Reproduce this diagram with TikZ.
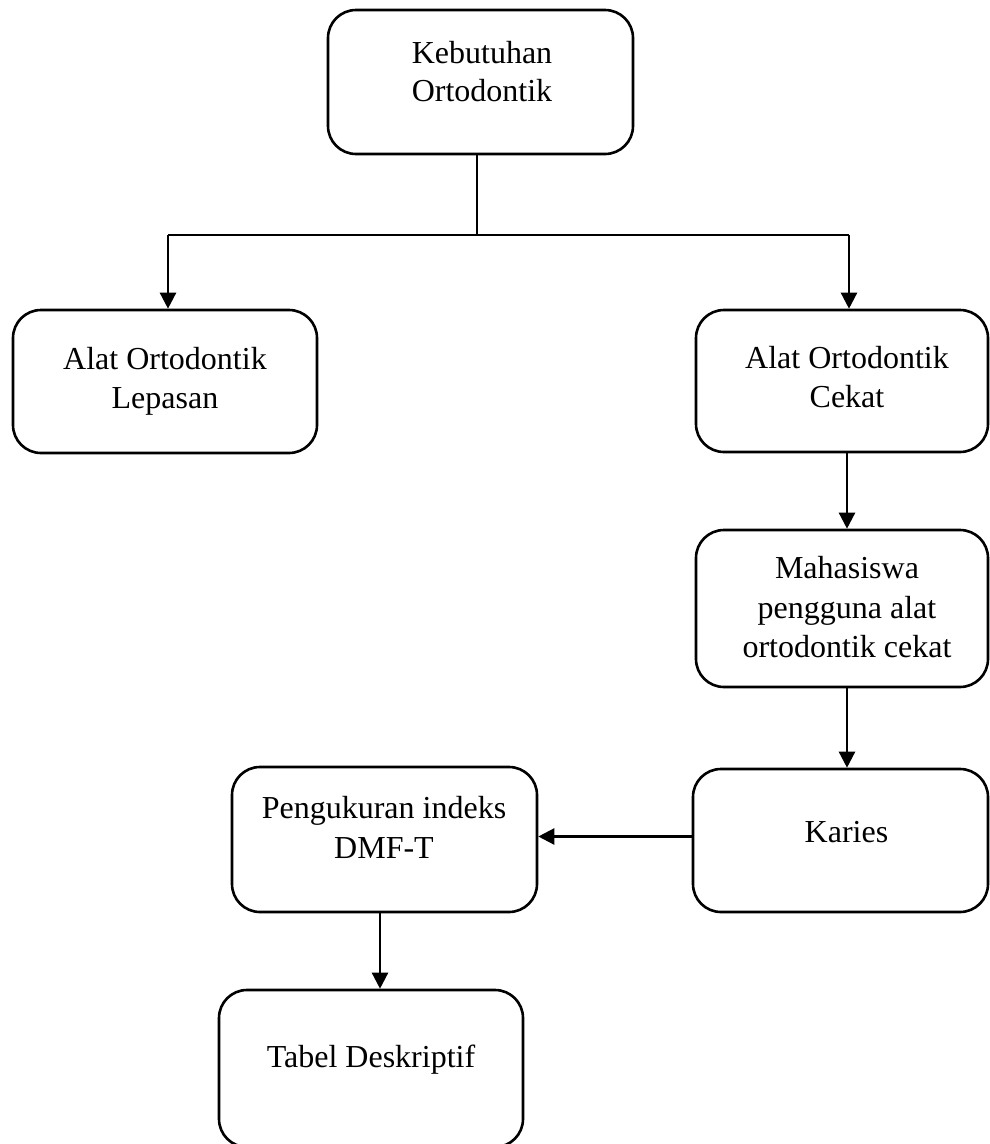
\documentclass[tikz,border=0pt]{standalone}
\usepackage{fontspec}
\setmainfont{Liberation Serif}
\usetikzlibrary{arrows.meta}
\begin{document}
\begin{tikzpicture}[x=1pt,y=-1pt,
  box/.style={draw, line width=2.6pt, rounded corners=28pt, inner sep=0pt},
  txt/.style={font=\fontsize{32}{39}\selectfont, anchor=base, inner sep=0pt},
  arr/.style={line width=2.4pt, -{Triangle[length=16pt,width=16pt]}},
  thinline/.style={line width=1.2pt}]
\useasboundingbox (0,0) rectangle (990,1144);

% boxes
\node[box, minimum width=305pt, minimum height=144pt] (keb) at (480.5,82) {};
\node[box, minimum width=304pt, minimum height=143pt] (lep) at (165,381.5) {};
\node[box, minimum width=292pt, minimum height=142pt] (cek) at (842,381) {};
\node[box, minimum width=292pt, minimum height=157pt] (mah) at (842,608.5) {};
\node[box, minimum width=295pt, minimum height=143pt] (kar) at (840.5,840.5) {};
\node[box, minimum width=305pt, minimum height=145pt] (pen) at (384.5,839.5) {};
\node[box, minimum width=304pt, minimum height=157pt] (tab) at (371,1068.5) {};

% texts
\node[txt] (keb1) at (482,63) {Kebutuhan};
\node[txt] (keb2) at (482,101) {Ortodontik};
\node[txt] (lep1) at (165,369) {Alat Ortodontik};
\node[txt] (lep2) at (165,408) {Lepasan};
\node[txt] (cek1) at (847,368) {Alat Ortodontik};
\node[txt] (cek2) at (847,407) {Cekat};
\node[txt] (mah1) at (847,578) {Mahasiswa};
\node[txt] (mah2) at (847,618) {pengguna alat};
\node[txt] (mah3) at (847,657) {ortodontik cekat};
\node[txt] (kar1) at (846.5,842) {Karies};
\node[txt] (pen1) at (384,818) {Pengukuran indeks};
\node[txt] (pen2) at (384,858) {DMF-T};
\node[txt] (tab1) at (371,1067) {Tabel Deskriptif};

% connectors
\coordinate (jm) at (477,235);
\coordinate (jl) at (168,235);
\coordinate (jr) at (849,235);
\coordinate (jx) at (847,0);
\coordinate (px) at (380,0);
\draw[thinline] (jm |- keb.south) -- (jm);
\draw[thinline] (jl) -- (jr);
\draw[arr] (jl) -- (jl |- lep.north);
\draw[arr] (jr) -- (jr |- cek.north);
\draw[arr] (cek.south -| jx) -- (mah.north -| jx);
\draw[arr] (mah.south -| jx) -- (kar.north -| jx);
\draw[arr] ([yshift=4pt]kar.west) -- ([yshift=4pt]kar.west -| pen.east);
\draw[arr] (pen.south -| px) -- (tab.north -| px);
\end{tikzpicture}
\end{document}
